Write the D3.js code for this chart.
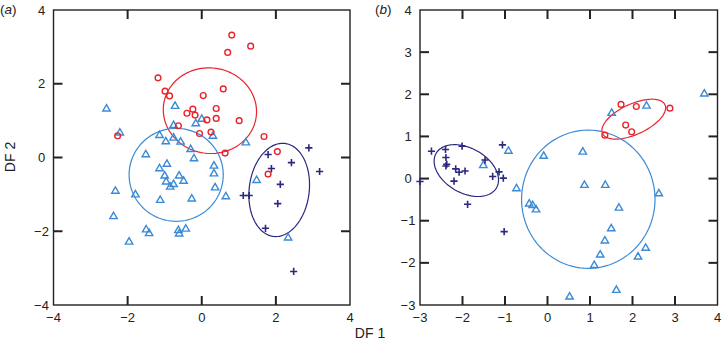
<!DOCTYPE html>
<html>
<head>
<meta charset="utf-8">
<script src="https://cdn.jsdelivr.net/npm/d3@7"></script>
<style>
  html, body { margin: 0; padding: 0; background: #fff; }
  svg { display: block; font-family: "Liberation Sans", Arial, sans-serif; }
</style>
</head>
<body>
<svg id="chart" width="722" height="342"></svg>
<script>
// ---- panel (a) data ----
const aCircles = [
  [-1.18, 2.16], [0.81, 3.32], [0.70, 2.85], [1.32, 3.02], [-0.99, 1.80],
  [-0.87, 1.67], [0.04, 1.68], [0.58, 1.86], [-0.24, 1.31], [-0.40, 1.20],
  [-0.18, 1.15], [0.39, 1.33], [0.14, 1.02], [0.39, 1.06], [1.01, 1.00],
  [-0.63, 0.86], [-0.06, 0.65], [0.25, 0.69], [-2.27, 0.59], [1.68, 0.57],
  [0.63, 0.12], [2.04, 0.16], [1.79, -0.45]
];
const aTriangles = [
  [-2.57, 1.33], [-2.21, 0.68], [-0.72, 1.40], [0.00, 1.05], [-0.16, 0.93],
  [-0.76, 0.88], [-1.14, 0.61], [-0.97, 0.44], [-0.76, 0.54], [-0.57, 0.43],
  [0.30, 0.59], [1.19, 0.41], [-0.30, 0.23], [-1.51, 0.09], [-0.21, -0.02],
  [-0.94, -0.17], [-1.14, -0.29], [0.33, -0.22], [0.33, -0.43], [-1.00, -0.49],
  [-0.61, -0.49], [-0.96, -0.65], [-0.49, -0.63], [-0.76, -0.72], [-0.85, -0.79],
  [0.36, -0.81], [0.65, -1.05], [1.48, -0.61], [-2.33, -0.90], [-1.79, -1.00],
  [-1.12, -1.15], [-0.27, -1.11], [-2.38, -1.59], [-1.50, -1.95], [-1.42, -2.05],
  [-0.63, -1.97], [-0.61, -2.06], [-0.43, -1.93], [-1.96, -2.28], [2.33, -2.17]
];
const aCrosses = [
  [1.79, 0.08], [2.89, 0.26], [2.42, -0.14], [1.88, -0.30], [3.18, -0.38],
  [2.12, -0.73], [1.12, -1.03], [1.28, -1.03], [2.05, -1.25], [1.72, -1.92],
  [2.48, -3.09]
];
// ellipses: centre, semi-axes and rotation (degrees) in data units
const aEllipses = [
  { group: "circle", cx: 0.22, cy: 1.27, rx: 1.26, ry: 1.16, angle: -8 },
  { group: "triangle", cx: -0.69, cy: -0.47, rx: 1.27, ry: 1.26, angle: 0 },
  { group: "cross", cx: 2.09, cy: -0.88, rx: 0.81, ry: 1.27, angle: -7 }
];

// ---- panel (b) data ----
const bCircles = [
  [1.73, 1.76], [2.09, 1.71], [2.88, 1.67], [1.84, 1.27], [1.98, 1.11], [1.35, 1.03]
];
const bTriangles = [
  [3.69, 2.02], [2.33, 1.73], [1.51, 1.56], [0.83, 0.64], [-0.09, 0.54],
  [-0.92, 0.66], [-1.51, 0.32], [-0.73, -0.23], [0.87, -0.15], [1.36, -0.15],
  [2.62, -0.35], [-0.43, -0.59], [-0.35, -0.63], [-0.27, -0.73], [1.68, -0.69],
  [1.50, -1.18], [1.35, -1.47], [1.24, -1.80], [1.10, -2.05], [2.13, -1.85],
  [2.31, -1.64], [1.62, -2.64], [0.52, -2.80]
];
const bCrosses = [
  [-2.73, 0.65], [-2.40, 0.69], [-2.01, 0.77], [-2.39, 0.50], [-2.37, 0.34],
  [-2.39, 0.30], [-2.16, 0.23], [-2.08, 0.15], [-1.94, 0.18], [-2.20, -0.06],
  [-1.47, 0.44], [-1.06, 0.80], [-1.14, 0.16], [-1.29, 0.05], [-1.04, 0.01],
  [-1.88, -0.61], [-1.02, -1.26], [-3.00, -0.07]
];
const bEllipses = [
  { group: "circle", cx: 2.03, cy: 1.41, rx: 0.81, ry: 0.36, angle: 25 },
  { group: "triangle", cx: 0.96, cy: -0.49, rx: 1.57, ry: 1.64, angle: 0 },
  { group: "cross", cx: -1.91, cy: 0.19, rx: 0.82, ry: 0.53, angle: -30 }
];

const aTicksX = [-4, -2, 0, 2, 4];
const aTicksY = [-4, -2, 0, 2, 4];
const bTicksX = [-3, -2, -1, 0, 1, 2, 3, 4];
const bTicksY = [-3, -2, -1, 0, 1, 2, 3, 4];

const colors = { circle: "#e8232c", triangle: "#3b8ad6", cross: "#2a2880" };
const markers = {
  circle: d3.symbol().type(d3.symbolCircle).size(26)(),
  triangle: "M0,-3.9L3.7,2.5L-3.7,2.5Z",
  cross: "M-3.6,0H3.6M0,-3.6V3.6"
};

const svg = d3.select("#chart");
const fmt = d => d < 0 ? "\u2212" + Math.abs(d) : String(d);

function ellipsePoints(e) {
  const a = e.angle * Math.PI / 180;
  return d3.range(0, 101).map(i => {
    const t = i / 100 * 2 * Math.PI;
    const dx = e.rx * Math.cos(t), dy = e.ry * Math.sin(t);
    return [e.cx + dx * Math.cos(a) - dy * Math.sin(a), e.cy + dx * Math.sin(a) + dy * Math.cos(a)];
  });
}

function drawPanel(cfg) {
  const x = d3.scaleLinear().domain(cfg.xDomain).range([cfg.left, cfg.right]);
  const y = d3.scaleLinear().domain(cfg.yDomain).range([cfg.bottom, cfg.top]);
  const g = svg.append("g");
  const tickLen = 9;

  // frame
  g.append("rect")
    .attr("x", cfg.left).attr("y", cfg.top)
    .attr("width", cfg.right - cfg.left).attr("height", cfg.bottom - cfg.top)
    .attr("fill", "none").attr("stroke", "#222").attr("stroke-width", 1.4);

  // inward ticks on all four sides
  const innerX = cfg.ticksX.slice(1, -1);
  const innerY = cfg.ticksY.slice(1, -1);
  innerX.forEach(v => {
    g.append("line").attr("x1", x(v)).attr("x2", x(v)).attr("y1", cfg.bottom).attr("y2", cfg.bottom - tickLen);
    g.append("line").attr("x1", x(v)).attr("x2", x(v)).attr("y1", cfg.top).attr("y2", cfg.top + tickLen);
  });
  innerY.forEach(v => {
    g.append("line").attr("y1", y(v)).attr("y2", y(v)).attr("x1", cfg.left).attr("x2", cfg.left + tickLen);
    g.append("line").attr("y1", y(v)).attr("y2", y(v)).attr("x1", cfg.right).attr("x2", cfg.right - tickLen);
  });
  g.selectAll("line").attr("stroke", "#222").attr("stroke-width", 2);

  // tick labels
  g.selectAll("text.xl").data(cfg.ticksX).enter().append("text")
    .attr("x", d => x(d)).attr("y", cfg.bottom + 17)
    .attr("text-anchor", "middle").attr("font-size", 13).attr("fill", "#222")
    .text(fmt);
  g.selectAll("text.yl").data(cfg.ticksY).enter().append("text")
    .attr("x", cfg.left - 12).attr("y", d => y(d) + 4.5)
    .attr("text-anchor", "middle").attr("font-size", 13).attr("fill", "#222")
    .text(fmt);

  // ellipses
  const line = d3.line().x(d => x(d[0])).y(d => y(d[1])).curve(d3.curveLinearClosed);
  g.selectAll("path.ell").data(cfg.ellipses).enter().append("path")
    .attr("d", d => line(ellipsePoints(d)))
    .attr("fill", "none")
    .attr("stroke", d => colors[d.group])
    .attr("stroke-width", 1.2);

  // markers
  [["triangle", cfg.triangles], ["circle", cfg.circles], ["cross", cfg.crosses]].forEach(([k, pts]) => {
    g.selectAll("path.m-" + k).data(pts).enter().append("path")
      .attr("transform", d => `translate(${x(d[0])},${y(d[1])})`)
      .attr("d", markers[k])
      .attr("fill", "none")
      .attr("stroke", colors[k])
      .attr("stroke-width", k === "cross" ? 1.6 : 1.4);
  });

  // panel label
  const lab = svg.append("text")
    .attr("x", cfg.labelX).attr("y", 14)
    .attr("font-size", 13.5).attr("fill", "#222");
  lab.append("tspan").text("(");
  lab.append("tspan").attr("font-style", "italic").text(cfg.label);
  lab.append("tspan").text(")");
}

drawPanel({
  xDomain: [-4, 4], yDomain: [-4, 4],
  left: 53.5, right: 350, top: 10, bottom: 305,
  ticksX: aTicksX, ticksY: aTicksY,
  circles: aCircles, triangles: aTriangles, crosses: aCrosses, ellipses: aEllipses,
  label: "a", labelX: 0
});
drawPanel({
  xDomain: [-3, 4], yDomain: [-3, 4],
  left: 420, right: 717.5, top: 10, bottom: 305,
  ticksX: bTicksX, ticksY: bTicksY,
  circles: bCircles, triangles: bTriangles, crosses: bCrosses, ellipses: bEllipses,
  label: "b", labelX: 375
});

// axis titles
svg.append("text")
  .attr("x", 370).attr("y", 338)
  .attr("text-anchor", "middle").attr("font-size", 14).attr("fill", "#222")
  .text("DF 1");
svg.append("text")
  .attr("transform", "translate(15,157) rotate(-90)")
  .attr("text-anchor", "middle").attr("font-size", 14).attr("fill", "#222")
  .text("DF 2");
</script>
</body>
</html>
